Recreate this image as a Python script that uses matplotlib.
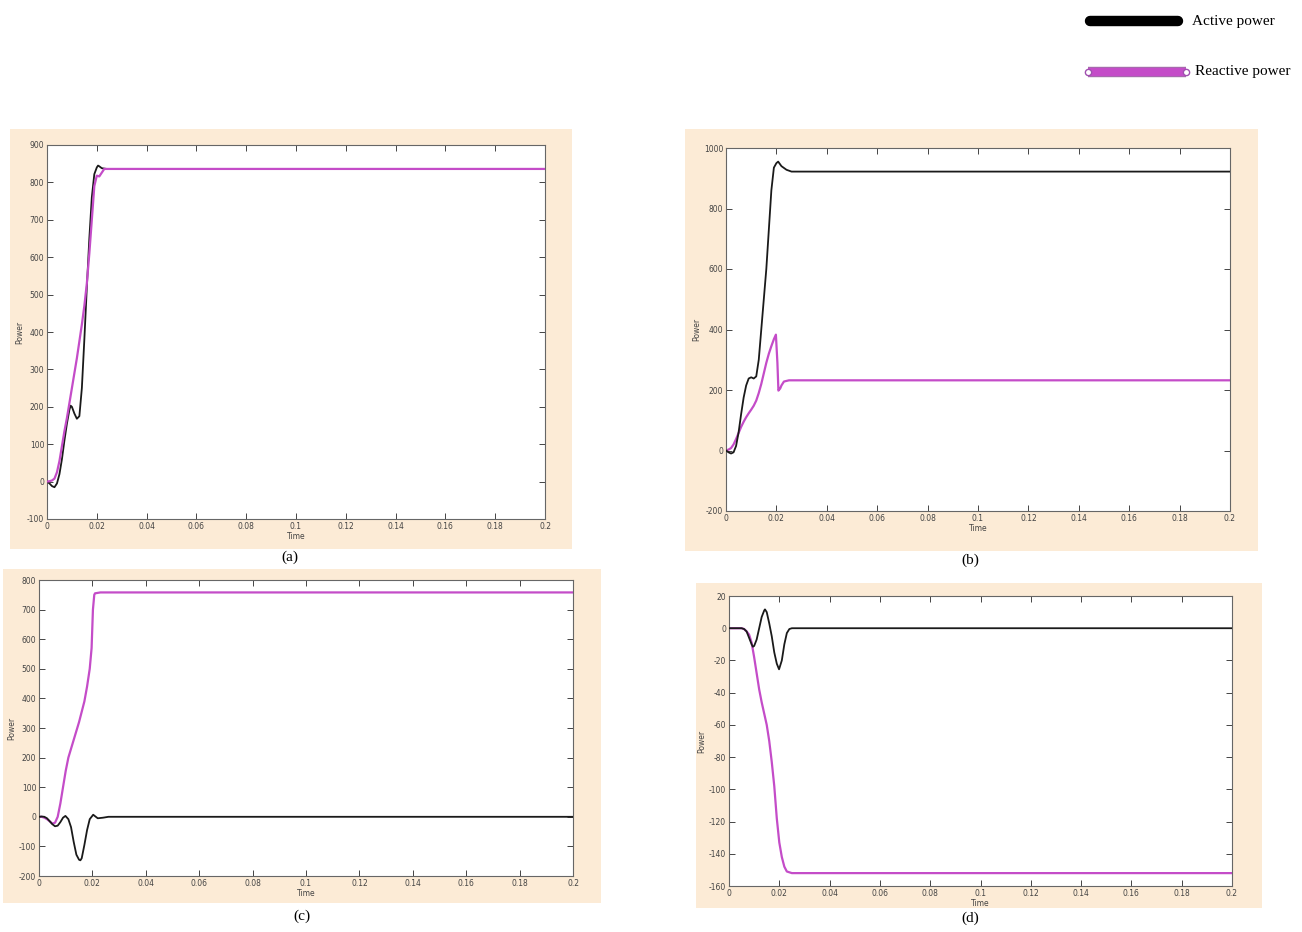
#!/usr/bin/env python3
"""Active / reactive power step responses, four cases (a)-(d)."""
import matplotlib
matplotlib.use("Agg")
import matplotlib.pyplot as plt
import matplotlib.patheffects as pe
from matplotlib.lines import Line2D
from matplotlib.patches import Rectangle

plt.rcParams["axes.unicode_minus"] = False

# ---------------- data ----------------
# (a)
t_a_p = [0, 0.001, 0.002, 0.003, 0.004, 0.005, 0.006, 0.007, 0.008, 0.009, 0.0095, 0.010,
         0.011, 0.012, 0.013, 0.014, 0.015, 0.016, 0.017, 0.018, 0.019, 0.020, 0.0205,
         0.021, 0.022, 0.024, 0.2]
p_a = [0, -5, -12, -15, -5, 20, 60, 110, 155, 192, 203, 200, 182, 168, 175, 250, 380, 520,
       650, 760, 822, 840, 845, 843, 838, 836, 836]
t_a_q = [0, 0.001, 0.002, 0.003, 0.004, 0.005, 0.006, 0.007, 0.008, 0.009, 0.010, 0.011,
         0.012, 0.013, 0.014, 0.015, 0.016, 0.017, 0.018, 0.019, 0.020, 0.021, 0.022,
         0.023, 0.2]
q_a = [0, 1, 3, 8, 25, 55, 95, 135, 170, 210, 250, 290, 330, 375, 420, 470, 530, 610, 700,
       790, 818, 816, 826, 836, 836]

# (b)
t_b_p = [0, 0.001, 0.002, 0.003, 0.004, 0.005, 0.006, 0.007, 0.008, 0.009, 0.010, 0.011,
         0.012, 0.013, 0.014, 0.015, 0.016, 0.017, 0.018, 0.019, 0.020, 0.0207, 0.022,
         0.024, 0.026, 0.2]
p_b = [0, -6, -10, -6, 15, 60, 120, 175, 215, 238, 242, 238, 245, 300, 400, 500, 600,
       730, 860, 935, 950, 955, 940, 928, 922, 922]
t_b_q = [0, 0.001, 0.002, 0.003, 0.004, 0.005, 0.006, 0.007, 0.008, 0.009, 0.010, 0.011,
         0.012, 0.013, 0.014, 0.015, 0.016, 0.017, 0.018, 0.019, 0.0198, 0.0204, 0.0208,
         0.0215, 0.022, 0.023, 0.025, 0.2]
q_b = [0, 3, 8, 20, 38, 58, 78, 95, 110, 123, 135, 148, 165, 190, 220, 255, 290, 320, 345,
       368, 383, 290, 198, 205, 215, 228, 232, 232]

# (c)
t_c_p = [0, 0.001, 0.002, 0.003, 0.004, 0.005, 0.006, 0.007, 0.008, 0.009, 0.0099, 0.011,
         0.012, 0.013, 0.014, 0.015, 0.0155, 0.016, 0.017, 0.018, 0.019, 0.0203, 0.021,
         0.022, 0.024, 0.026, 0.2]
p_c = [0, 1, 0, -5, -15, -25, -32, -30, -18, -3, 3, -8, -35, -85, -128, -145, -147, -140,
       -95, -45, -8, 7, 2, -5, -3, 0, 0]
t_c_q = [0, 0.001, 0.002, 0.003, 0.004, 0.005, 0.006, 0.007, 0.008, 0.009, 0.010, 0.011,
         0.012, 0.013, 0.014, 0.015, 0.016, 0.017, 0.018, 0.019, 0.0197, 0.0202, 0.0207,
         0.021, 0.023, 0.2]
q_c = [0, 0, -3, -8, -15, -23, -20, 0, 45, 100, 155, 200, 230, 260, 290, 320, 355, 390,
       440, 500, 570, 700, 750, 755, 758, 758]

# (d)
t_d_p = [0, 0.005, 0.006, 0.007, 0.008, 0.009, 0.0095, 0.010, 0.011, 0.012, 0.013, 0.014,
         0.0143, 0.015, 0.016, 0.017, 0.018, 0.019, 0.0199, 0.021, 0.022, 0.023, 0.024,
         0.025, 0.2]
p_d = [0, 0, -0.5, -2, -6, -10, -11.5, -11, -7, 0, 7, 11, 11.7, 10, 3, -5, -15, -22,
       -25.5, -20, -10, -3, -0.5, 0, 0]
t_d_q = [0, 0.005, 0.006, 0.007, 0.008, 0.009, 0.010, 0.011, 0.012, 0.013, 0.014, 0.015,
         0.016, 0.017, 0.018, 0.019, 0.020, 0.021, 0.022, 0.023, 0.025, 0.2]
q_d = [0, 0, -0.5, -2, -4, -9, -18, -28, -38, -46, -53, -60, -70, -83, -98, -118, -133,
       -142, -148, -151, -152, -152]

panels = [
    ("(a)", t_a_p, p_a, t_a_q, q_a, [-100, 0, 100, 200, 300, 400, 500, 600, 700, 800, 900]),
    ("(b)", t_b_p, p_b, t_b_q, q_b, [-200, 0, 200, 400, 600, 800, 1000]),
    ("(c)", t_c_p, p_c, t_c_q, q_c, [-200, -100, 0, 100, 200, 300, 400, 500, 600, 700, 800]),
    ("(d)", t_d_p, p_d, t_d_q, q_d, [-160, -140, -120, -100, -80, -60, -40, -20, 0, 20]),
]
x_ticks = [0, 0.02, 0.04, 0.06, 0.08, 0.1, 0.12, 0.14, 0.16, 0.18, 0.2]
x_labels = ["0", "0.02", "0.04", "0.06", "0.08", "0.1", "0.12", "0.14", "0.16", "0.18", "0.2"]

# ---------------- layout (pixel boxes of the reference) ----------------
W, H = 1302, 932
# bg box, axes box (x0, y0, x1, y1 in px, top-left origin), caption position
boxes = [
    ((10, 129, 572, 549), (47, 145, 545, 519), (290, 557)),
    ((685, 129, 1258, 551), (726, 148, 1230, 511), (970, 560)),
    ((3, 569, 601, 903), (39, 580, 573, 876), (302, 916)),
    ((696, 583, 1262, 908), (729, 596, 1232, 886), (970, 918)),
]
magenta_on_top = [True, False, False, False]


def frac(box):
    x0, y0, x1, y1 = box
    return [x0 / W, 1 - y1 / H, (x1 - x0) / W, (y1 - y0) / H]


BEIGE = "#fcebd6"
MAGENTA = "#c44cc8"
tick_font = ["Liberation Sans Narrow", "DejaVu Sans"]

fig = plt.figure(figsize=(W / 100, H / 100), dpi=100)
fig.patch.set_facecolor("white")

for (name, tp, p, tq, q, yt), (bg, axb, cap), mtop in zip(panels, boxes, magenta_on_top):
    fb = frac(bg)
    fig.add_artist(Rectangle((fb[0], fb[1]), fb[2], fb[3], transform=fig.transFigure,
                             facecolor=BEIGE, edgecolor="none", zorder=0))
    ax = fig.add_axes(frac(axb))
    ax.set_facecolor("white")
    ax.plot(tq, q, color=MAGENTA, lw=1.6, zorder=4 if mtop else 2)
    ax.plot(tp, p, color="#1a1a1a", lw=1.3, zorder=3)
    ax.set_xlim(0, 0.2)
    ax.set_ylim(yt[0], yt[-1])
    ax.set_xticks(x_ticks)
    ax.set_xticklabels(x_labels)
    ax.set_yticks(yt)
    ax.tick_params(direction="in", length=4, width=0.7, top=True, right=True,
                   labelsize=5.5, colors="#444444", pad=2)
    for lab in ax.get_xticklabels() + ax.get_yticklabels():
        lab.set_family(tick_font)
    for s in ax.spines.values():
        s.set_color("#666666")
        s.set_linewidth(0.8)
    ax.set_xlabel("Time", fontsize=5.5, color="#444444", family=tick_font, labelpad=1)
    ax.set_ylabel("Power", fontsize=5.5, color="#444444", family=tick_font, labelpad=2)
    fig.text(cap[0] / W, 1 - cap[1] / H, name, ha="center", va="center",
             fontsize=11, family="Liberation Serif")

# ---------------- legend (top right) ----------------
fig.add_artist(Line2D([1090 / W, 1178 / W], [1 - 21 / H, 1 - 21 / H], color="black",
                      lw=7.5, solid_capstyle="round", transform=fig.transFigure))
fig.text(1192 / W, 1 - 21 / H, "Active power", ha="left", va="center", fontsize=11,
         family="Liberation Serif")
fig.add_artist(Line2D([1088 / W, 1186 / W], [1 - 72 / H, 1 - 72 / H], color=MAGENTA,
                      lw=6, solid_capstyle="butt", transform=fig.transFigure,
                      path_effects=[pe.Stroke(linewidth=7.5, foreground="#a070a8"),
                                    pe.Normal()]))
fig.add_artist(Line2D([1088 / W, 1186 / W], [1 - 72 / H, 1 - 72 / H], ls="none",
                      marker="o", ms=4.5, mfc="white", mec="#a050b0", mew=1,
                      transform=fig.transFigure))
fig.text(1195 / W, 1 - 72 / H, "Reactive power", ha="left", va="center", fontsize=11,
         family="Liberation Serif")

fig.savefig("out.png", dpi=100)
